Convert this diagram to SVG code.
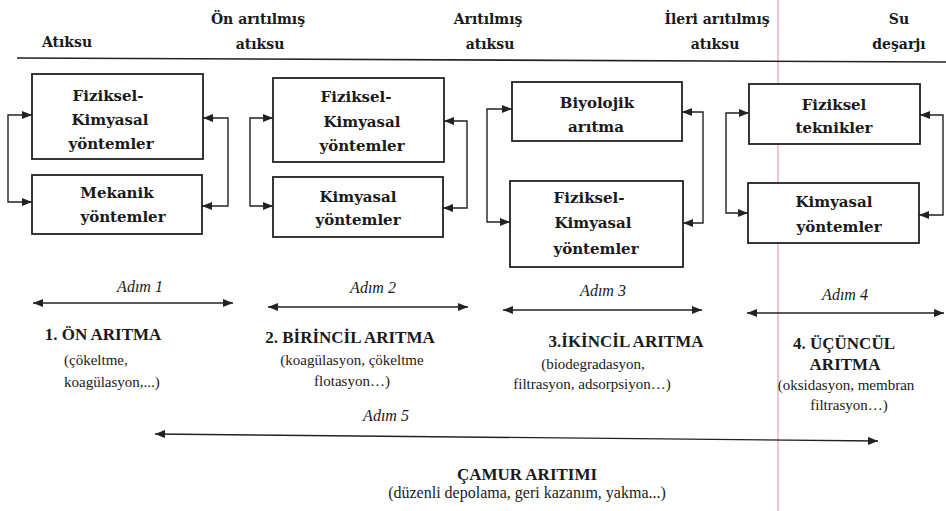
<svg xmlns="http://www.w3.org/2000/svg" width="946" height="511" viewBox="0 0 946 511">
<defs>
<style>
.bx{fill:#fff;stroke:#222;stroke-width:1.8}
.ln{fill:none;stroke:#222;stroke-width:1.4}
.t{fill:#1a1a1a;text-anchor:middle}
.s{fill:#1a1a1a;text-anchor:start}
</style>
<marker id="ah" viewBox="0 0 10 8" refX="10" refY="4" markerWidth="10" markerHeight="8" markerUnits="userSpaceOnUse" orient="auto-start-reverse">
<path d="M0,0 L10,4 L0,8 Z" fill="#222"/>
</marker>
</defs>
<rect width="946" height="511" fill="#fff"/>
<line x1="778" y1="0" x2="778" y2="511" stroke="#f2b8c6" stroke-width="1.6"/>

<g id="header" font-family="'DejaVu Serif', 'Liberation Serif', serif" font-weight="bold" font-size="14">
<text class="t" x="67" y="47">Atıksu</text>
<text class="t" x="258" y="24">Ön arıtılmış</text>
<text class="t" x="260" y="49">atıksu</text>
<text class="t" x="488" y="24">Arıtılmış</text>
<text class="t" x="490" y="49">atıksu</text>
<text class="t" x="717" y="24">İleri arıtılmış</text>
<text class="t" x="715" y="49">atıksu</text>
<text class="t" x="899" y="24">Su</text>
<text class="t" x="899" y="49">deşarjı</text>
</g>
<line x1="17" y1="58" x2="946" y2="62" stroke="#222" stroke-width="1.6"/>

<g font-family="'DejaVu Serif', 'Liberation Serif', serif" font-weight="bold" font-size="15">
<g id="n1"><rect class="bx" x="32" y="74" width="171" height="85"/>
<text class="t" x="108" y="101">Fiziksel-</text><text class="t" x="110" y="125">Kimyasal</text><text class="t" x="111" y="149">yöntemler</text></g>
<g id="n2"><rect class="bx" x="32" y="175" width="170" height="59"/>
<text class="t" x="117" y="198">Mekanik</text><text class="t" x="123" y="222">yöntemler</text></g>
<g id="n3"><rect class="bx" x="273" y="78" width="171" height="84"/>
<text class="t" x="356" y="102">Fiziksel-</text><text class="t" x="362" y="127">Kimyasal</text><text class="t" x="362" y="151">yöntemler</text></g>
<g id="n4"><rect class="bx" x="273" y="177" width="170" height="60"/>
<text class="t" x="358" y="202">Kimyasal</text><text class="t" x="358" y="225">yöntemler</text></g>
<g id="n5"><rect class="bx" x="512" y="82" width="170" height="59"/>
<text class="t" x="597" y="108">Biyolojik</text><text class="t" x="596" y="132">arıtma</text></g>
<g id="n6"><rect class="bx" x="510" y="181" width="173" height="86"/>
<text class="t" x="589" y="203">Fiziksel-</text><text class="t" x="593" y="228">Kimyasal</text><text class="t" x="596" y="254">yöntemler</text></g>
<g id="n7"><rect class="bx" x="749" y="84" width="171" height="60"/>
<text class="t" x="834" y="110">Fiziksel</text><text class="t" x="834" y="133">teknikler</text></g>
<g id="n8"><rect class="bx" x="748" y="183" width="171" height="60"/>
<text class="t" x="834" y="207">Kimyasal</text><text class="t" x="839" y="232">yöntemler</text></g>
</g>

<g id="connectors">
<path class="ln" d="M32,115 H8 V202 H32" marker-start="url(#ah)" marker-end="url(#ah)"/>
<path class="ln" d="M203,118 H228 V206 H202" marker-start="url(#ah)" marker-end="url(#ah)"/>
<path class="ln" d="M273,118 H250 V206 H273" marker-start="url(#ah)" marker-end="url(#ah)"/>
<path class="ln" d="M444,121 H467 V208 H443" marker-start="url(#ah)" marker-end="url(#ah)"/>
<path class="ln" d="M512,109 H487 V222 H510" marker-start="url(#ah)" marker-end="url(#ah)"/>
<path class="ln" d="M682,112 H703 V223 H683" marker-start="url(#ah)" marker-end="url(#ah)"/>
<path class="ln" d="M749,113 H726 V213 H748" marker-start="url(#ah)" marker-end="url(#ah)"/>
<path class="ln" d="M920,115 H943 V215 H919" marker-start="url(#ah)" marker-end="url(#ah)"/>
<path class="ln" d="M33,303 H233" marker-start="url(#ah)" marker-end="url(#ah)"/>
<path class="ln" d="M268,307 H468" marker-start="url(#ah)" marker-end="url(#ah)"/>
<path class="ln" d="M503,310 H702" marker-start="url(#ah)" marker-end="url(#ah)"/>
<path class="ln" d="M747,313 H944" marker-start="url(#ah)" marker-end="url(#ah)"/>
<path class="ln" d="M155,434 L878,441" marker-start="url(#ah)" marker-end="url(#ah)"/>
</g>

<g id="labels" font-family="'Liberation Serif', 'Times New Roman', serif">
<g font-style="italic" font-size="16">
<text class="t" x="140" y="292">Adım 1</text>
<text class="t" x="373" y="293">Adım 2</text>
<text class="t" x="603" y="296">Adım 3</text>
<text class="t" x="845" y="300">Adım 4</text>
<text class="t" x="386" y="421">Adım 5</text>
</g>
<g font-weight="bold" font-size="17">
<text class="t" x="103" y="340">1. ÖN ARITMA</text>
<text class="t" x="350" y="343">2. BİRİNCİL ARITMA</text>
<text class="t" x="626" y="347">3.İKİNCİL ARITMA</text>
<text class="t" x="844" y="349">4. ÜÇÜNCÜL</text>
<text class="t" x="845" y="370">ARITMA</text>
<text class="t" x="527" y="480">ÇAMUR ARITIMI</text>
</g>
<g font-size="15">
<text class="s" x="64" y="365">(çökeltme,</text>
<text class="s" x="64" y="387">koagülasyon,...)</text>
<text class="t" x="352" y="365">(koagülasyon, çökeltme</text>
<text class="t" x="352" y="386">flotasyon…)</text>
<text class="t" x="593" y="369">(biodegradasyon,</text>
<text class="t" x="592" y="389">filtrasyon, adsorpsiyon…)</text>
<text class="t" x="846" y="390">(oksidasyon, membran</text>
<text class="t" x="849" y="410">filtrasyon…)</text>
<text class="t" x="527" y="498" font-size="16">(düzenli depolama, geri kazanım, yakma...)</text>
</g>
</g>
</svg>
